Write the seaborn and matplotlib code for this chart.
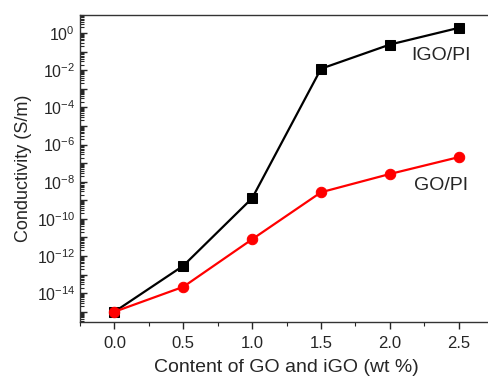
import numpy as np
import pandas as pd
import matplotlib
matplotlib.use("Agg")
import matplotlib.pyplot as plt
import matplotlib.ticker as mticker
import seaborn as sns

# --- data ---
content = [0.0, 0.5, 1.0, 1.5, 2.0, 2.5]
igo_pi = [1.0e-15, 3.0e-13, 1.3e-9, 1.2e-2, 0.24, 1.9]
go_pi = [1.0e-15, 2.2e-14, 8.0e-12, 2.7e-9, 2.6e-8, 2.1e-7]
x_ticks = [0.0, 0.5, 1.0, 1.5, 2.0, 2.5]

sns.set_style("ticks")
plt.rcParams['font.family'] = ['Liberation Sans', 'DejaVu Sans']
plt.rcParams['mathtext.default'] = 'regular'

df = pd.DataFrame({'content': content, 'IGO/PI': igo_pi, 'GO/PI': go_pi})

fig = plt.figure(figsize=(4.89, 3.79), dpi=100)
ax = fig.add_axes([0.1636, 0.1504, 0.845, 0.81])

sns.lineplot(data=df, x='content', y='IGO/PI', ax=ax, color='black',
             marker='s', markersize=6.5, markeredgecolor='black', linewidth=1.6)
sns.lineplot(data=df, x='content', y='GO/PI', ax=ax, color='#ff0000',
             marker='o', markersize=7.5, markeredgecolor='#ff0000', linewidth=1.6)

ax.set_yscale('log')
ax.set_ylim(10 ** -15.55, 10 ** 0.97)
ax.set_xlim(-0.25, 2.75)

ax.yaxis.set_major_locator(mticker.LogLocator(base=10, numticks=30))
ax.yaxis.set_minor_locator(mticker.LogLocator(base=10, subs=np.arange(2, 10), numticks=30))
ax.yaxis.set_major_formatter(mticker.FuncFormatter(
    lambda v, p: r'$10^{%d}$' % round(np.log10(v)) if round(np.log10(v)) % 2 == 0 else ''))
ax.yaxis.set_minor_formatter(mticker.NullFormatter())

ax.set_xticks(x_ticks)
ax.set_xticklabels([f'{t:.1f}' for t in x_ticks])
ax.xaxis.set_minor_locator(mticker.MultipleLocator(0.25))

ax.tick_params(axis='y', which='major', direction='in', length=5, width=1, labelsize=11.5)
ax.tick_params(axis='y', which='minor', direction='in', length=3, width=0.8)
ax.tick_params(axis='x', which='major', direction='out', length=5, width=1, labelsize=12, pad=5)
ax.tick_params(axis='x', which='minor', direction='out', length=3, width=0.8)

for s in ax.spines.values():
    s.set_color('#333333')
    s.set_linewidth(1.0)

ax.set_xlabel('Content of GO and iGO (wt %)', fontsize=14, labelpad=6)
ax.set_ylabel('Conductivity (S/m)', fontsize=13, labelpad=3)

ax.text(2.37, 10 ** -1.2, 'IGO/PI', fontsize=14, ha='center', va='center')
ax.text(2.37, 10 ** -8.2, 'GO/PI', fontsize=14, ha='center', va='center')

plt.savefig('out.png', dpi=100)
